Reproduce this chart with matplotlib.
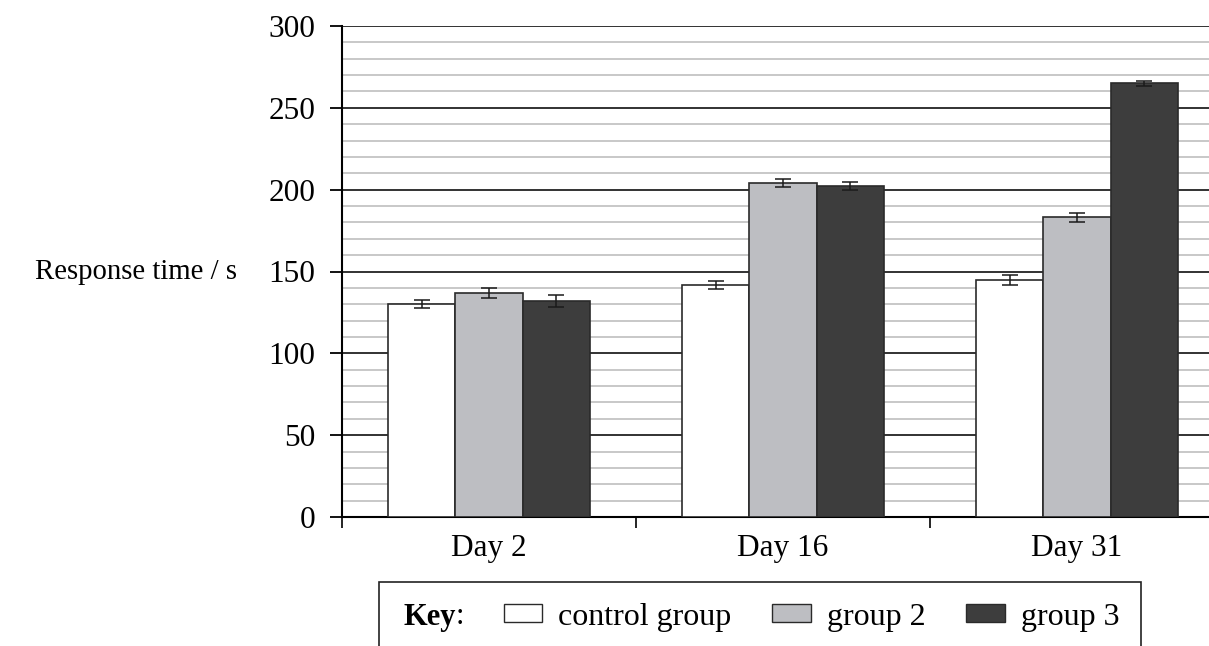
import matplotlib
matplotlib.use("Agg")
import matplotlib.pyplot as plt
import numpy as np
from matplotlib.patches import Patch, Rectangle
from matplotlib.text import Annotation
from matplotlib.ticker import MultipleLocator, FixedLocator

# 数据
days = ["Day 2", "Day 16", "Day 31"]
groups = ["control group", "group 2", "group 3"]
control = [130, 142, 145]
group2 = [137, 204, 183]
group3 = [132, 202, 265]
control_err = [2.5, 2.5, 3]
group2_err = [3, 2.5, 2.5]
group3_err = [3.5, 2.5, 1.5]
colors = ["#ffffff", "#bdbec2", "#3d3d3d"]

plt.rcParams['font.family'] = ['Liberation Serif', 'DejaVu Serif']

fig = plt.figure(figsize=(12.09, 6.46), dpi=100)
ax = fig.add_axes([342 / 1209, 129 / 646, 882 / 1209, 491 / 646])

x = np.arange(len(days))
w = 0.228
for i, (vals, errs) in enumerate([(control, control_err), (group2, group2_err), (group3, group3_err)]):
    ax.bar(x + (i - 1) * w, vals, w, color=colors[i], edgecolor="#2a2a2a", linewidth=1.2, zorder=3,
           yerr=errs, capsize=5.8, error_kw=dict(ecolor="#1a1a1a", elinewidth=1.1, capthick=1.1, zorder=4))

ax.set_xlim(-0.5, 2.5)
ax.set_ylim(0, 300)
ax.yaxis.set_major_locator(MultipleLocator(50))
ax.yaxis.set_minor_locator(MultipleLocator(10))
ax.grid(axis="y", which="major", color="#222222", linewidth=1.3, zorder=1)
ax.grid(axis="y", which="minor", color="#c4c4c4", linewidth=1.3, zorder=0)
ax.set_axisbelow(True)

ax.set_xticks(x)
ax.set_xticklabels(days)
ax.xaxis.set_minor_locator(FixedLocator([-0.5, 0.5, 1.5, 2.5]))
ax.tick_params(axis="x", which="major", length=0, pad=12, labelsize=22.5)
ax.tick_params(axis="x", which="minor", length=8, width=1.2, direction="out")
ax.tick_params(axis="y", which="major", length=9, width=1.3, direction="out", pad=10, labelsize=22.5)
ax.tick_params(axis="y", which="minor", length=0)

for s in ["top", "right"]:
    ax.spines[s].set_visible(False)
ax.spines["left"].set_linewidth(1.5)
ax.spines["bottom"].set_linewidth(1.5)

fig.text(35 / 1209, 1 - 272 / 646, "Response time / s", fontsize=20.7, va="center", ha="left")

# 图例框
fig.patches.append(Rectangle((379 / 1209, -0.05), (1141 - 379) / 1209, (646 - 582) / 646 + 0.05,
                             transform=fig.transFigure, facecolor="white", edgecolor="#222222",
                             linewidth=1.2))
t = fig.text(403 / 1209, 1 - 617 / 646, "Key", fontsize=22, fontweight="bold", va="center", ha="left")
fig.add_artist(Annotation(":", xy=(1, 0.5), xycoords=t, va="center", ha="left", fontsize=22))
handles = [Patch(facecolor=c, edgecolor="#2a2a2a", linewidth=1.0) for c in colors]
fig.legend(handles, groups, loc="center left", bbox_to_anchor=(504 / 1209, 1 - 617 / 646),
           ncol=3, frameon=False, fontsize=23, handlelength=1.2, handleheight=0.47,
           handletextpad=0.5, columnspacing=1.28, borderpad=0, borderaxespad=0)

plt.savefig("out.png", dpi=100)
